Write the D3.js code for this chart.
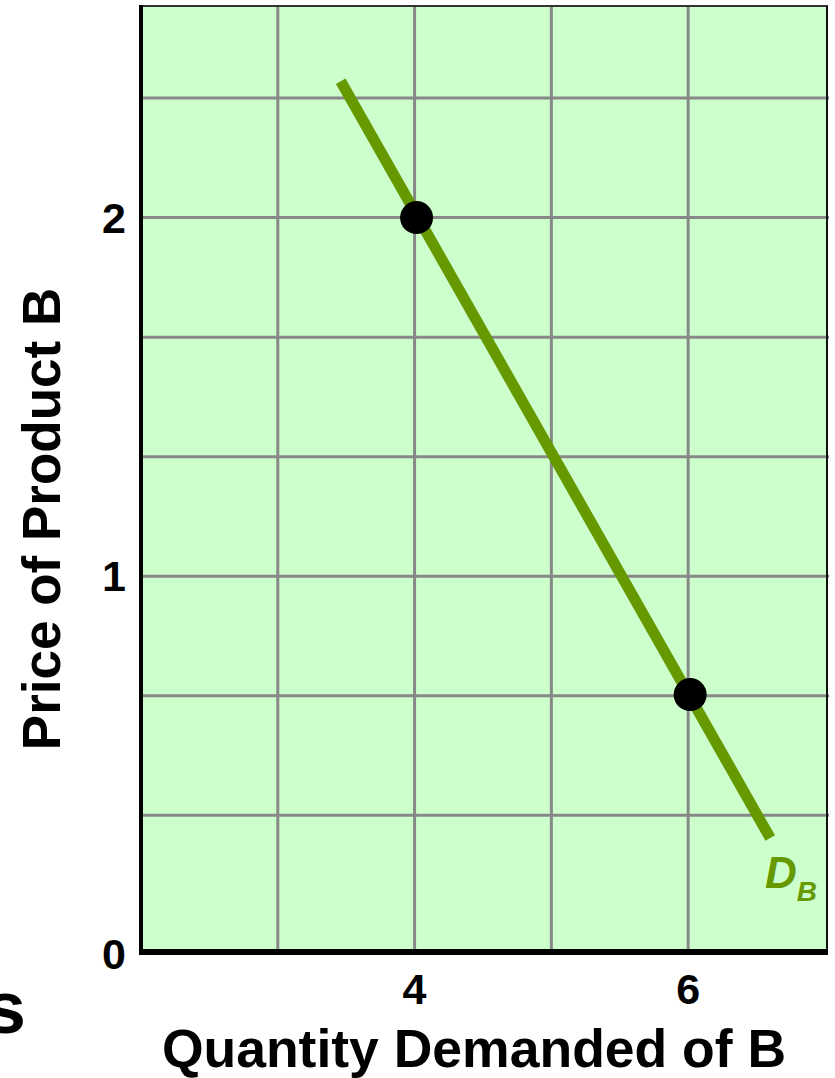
<!DOCTYPE html>
<html>
<head>
<meta charset="utf-8">
<script src="https://cdn.jsdelivr.net/npm/d3@7/dist/d3.min.js"></script>
<style>
  html, body { margin: 0; padding: 0; background: #ffffff; }
  svg { display: block; }
  text { font-family: "Liberation Sans", Arial, Helvetica, sans-serif; font-weight: bold; }
</style>
</head>
<body>
<svg id="chart" width="835" height="1078"></svg>
<script>
// Demand for product B: two marked price/quantity pairs on a straight demand curve
const pointQuantity = [4, 6];
const pointPrice = [2, 0.67];

// Ends of the demand curve D_B
const curveQuantity = [3.46, 6.6];
const curvePrice = [2.38, 0.27];

// Grid and tick values
const gridQuantity = [3, 4, 5, 6];
const gridPrice = [1 / 3, 2 / 3, 1, 4 / 3, 5 / 3, 2, 7 / 3];
const xTickValues = [4, 6];
const xTickLabels = ["4", "6"];
const yTickValues = [1, 2];
const yTickLabels = ["1", "2"];
const originLabel = "0";

const svg = d3.select("#chart");

const plot = { left: 141, right: 827, top: 6, bottom: 951 };

const x = d3.scaleLinear().domain([2, 7.015]).range([plot.left, plot.right]);
const y = d3.scaleLinear().domain([-0.045, 2.59]).range([plot.bottom, plot.top]);

const green = "#669900";

// plot background
svg.append("rect")
  .attr("x", plot.left).attr("y", plot.top)
  .attr("width", plot.right - plot.left).attr("height", plot.bottom - plot.top)
  .attr("fill", "#ccffcc");

// grid
const grid = svg.append("g").attr("stroke", "#888888").attr("stroke-width", 3);
grid.selectAll("line.v").data(gridQuantity).join("line")
  .attr("class", "v")
  .attr("x1", d => x(d)).attr("x2", d => x(d))
  .attr("y1", plot.top).attr("y2", plot.bottom);
grid.selectAll("line.h").data(gridPrice).join("line")
  .attr("class", "h")
  .attr("x1", plot.left).attr("x2", plot.right + 2)
  .attr("y1", d => y(d)).attr("y2", d => y(d));

// frame: thin top and right, heavy axes on the left and bottom
svg.append("line")
  .attr("x1", plot.left).attr("x2", plot.right + 1)
  .attr("y1", plot.top).attr("y2", plot.top)
  .attr("stroke", "#333333").attr("stroke-width", 2);
svg.append("line")
  .attr("x1", plot.right).attr("x2", plot.right)
  .attr("y1", plot.top).attr("y2", plot.bottom)
  .attr("stroke", "#111111").attr("stroke-width", 2);
svg.append("line")
  .attr("x1", plot.left).attr("x2", plot.left)
  .attr("y1", plot.top - 1).attr("y2", plot.bottom + 2)
  .attr("stroke", "#000000").attr("stroke-width", 4);
svg.append("line")
  .attr("x1", plot.left - 2).attr("x2", plot.right + 1)
  .attr("y1", plot.bottom + 1).attr("y2", plot.bottom + 1)
  .attr("stroke", "#000000").attr("stroke-width", 6);

// demand curve
const line = d3.line().x(d => x(d[0])).y(d => y(d[1]));
svg.append("path")
  .datum(d3.zip(curveQuantity, curvePrice))
  .attr("d", line)
  .attr("fill", "none")
  .attr("stroke", green)
  .attr("stroke-width", 11);

// marked points
svg.selectAll("circle.pt").data(d3.zip(pointQuantity, pointPrice)).join("circle")
  .attr("class", "pt")
  .attr("cx", d => x(d[0]) + 2)
  .attr("cy", d => y(d[1]))
  .attr("r", 16.5)
  .attr("fill", "#000000");

// curve label D_B
const lab = svg.append("text")
  .attr("x", 765).attr("y", 888)
  .attr("fill", green)
  .attr("font-style", "italic")
  .attr("font-size", 44);
lab.append("tspan").text("D");
lab.append("tspan").attr("font-size", 28).attr("dy", 13).attr("dx", 0).text("B");

// x tick labels
svg.selectAll("text.xt").data(xTickValues).join("text")
  .attr("class", "xt")
  .attr("x", d => x(d))
  .attr("y", 1004)
  .attr("text-anchor", "middle")
  .attr("font-size", 43)
  .text((d, i) => xTickLabels[i]);

// y tick labels
svg.selectAll("text.yt").data(yTickValues).join("text")
  .attr("class", "yt")
  .attr("x", 126)
  .attr("y", d => y(d) + 15)
  .attr("text-anchor", "end")
  .attr("font-size", 43)
  .text((d, i) => yTickLabels[i]);

// origin label
svg.append("text")
  .attr("x", 126).attr("y", plot.bottom + 18)
  .attr("text-anchor", "end")
  .attr("font-size", 43)
  .text(originLabel);

// axis titles
svg.append("text")
  .attr("x", 474).attr("y", 1067)
  .attr("text-anchor", "middle")
  .attr("font-size", 53.5)
  .text("Quantity Demanded of B");

svg.append("text")
  .attr("transform", "translate(60,519) rotate(-90)")
  .attr("text-anchor", "middle")
  .attr("font-size", 53)
  .text("Price of Product B");

// trailing letter of a caption running off the left edge
svg.append("text")
  .attr("x", 26).attr("y", 1033)
  .attr("text-anchor", "end")
  .attr("font-size", 74)
  .text("s");
</script>
</body>
</html>
